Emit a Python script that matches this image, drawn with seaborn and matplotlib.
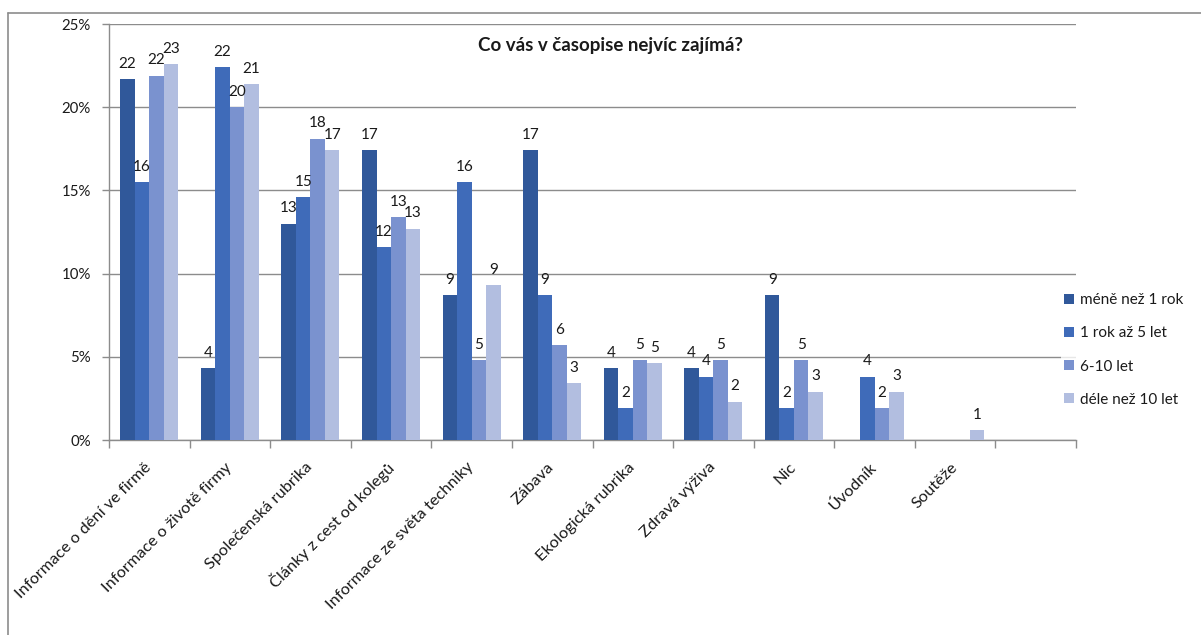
import numpy as np
import pandas as pd
import matplotlib
matplotlib.use("Agg")
import matplotlib.pyplot as plt
from matplotlib.lines import Line2D
from matplotlib.ticker import FixedLocator, PercentFormatter
import seaborn as sns

# --- data -------------------------------------------------------------
categories = [
    "Informace o dění ve firmě",
    "Informace o životě firmy",
    "Společenská rubrika",
    "Články z cest od kolegů",
    "Informace ze světa techniky",
    "Zábava",
    "Ekologická rubrika",
    "Zdravá výživa",
    "Nic",
    "Úvodník",
    "Soutěže",
]
series_names = ["méně než 1 rok", "1 rok až 5 let", "6-10 let", "déle než 10 let"]

mene_nez_1_rok = [21.7, 4.3, 13.0, 17.4, 8.7, 17.4, 4.3, 4.3, 8.7, 0.0, 0.0]
rok_az_5_let = [15.5, 22.4, 14.6, 11.6, 15.5, 8.7, 1.9, 3.8, 1.9, 3.8, 0.0]
let_6_10 = [21.9, 20.0, 18.1, 13.4, 4.8, 5.7, 4.8, 4.8, 4.8, 1.9, 0.0]
dele_nez_10_let = [22.6, 21.4, 17.4, 12.7, 9.3, 3.4, 4.6, 2.3, 2.9, 2.9, 0.6]

colors = ["#30589A", "#3F6BB9", "#7A92CF", "#B2BEE0"]
title = "Co vás v časopise nejvíc zajímá?"

values = [mene_nez_1_rok, rok_az_5_let, let_6_10, dele_nez_10_let]
df = pd.DataFrame(
    [(c, s, v) for s, vals in zip(series_names, values) for c, v in zip(categories, vals)],
    columns=["rubrika", "skupina", "podil"],
)

# --- style --------------------------------------------------------------
sns.set_style("white")
plt.rcParams["font.family"] = ["Lato", "DejaVu Sans"]
text_color = "#1a1a1a"
grid_color = "#8c8c8c"

W, H, DPI = 1201, 635, 100
fig = plt.figure(figsize=(W / DPI, H / DPI), dpi=DPI)
ax_left, ax_right, ax_top, ax_bottom = 109, 1076, 24, 440
ax = fig.add_axes([ax_left / W, 1 - ax_bottom / H,
                   (ax_right - ax_left) / W, (ax_bottom - ax_top) / H])

sns.barplot(data=df, x="rubrika", y="podil", hue="skupina", order=categories,
            hue_order=series_names, palette=colors, saturation=1,
            width=0.72, linewidth=0, ax=ax, legend=False, zorder=3)

# data labels (rounded values, nothing for empty bars)
for container, vals in zip(ax.containers, values):
    labels = [f"{round(v):d}" if v > 0 else "" for v in vals]
    ax.bar_label(container, labels=labels, padding=6, fontsize=11, color=text_color)

# y axis
ax.set_ylim(0, 25)
ax.set_yticks(np.arange(0, 26, 5))
ax.yaxis.set_major_formatter(PercentFormatter(decimals=0))
ax.grid(axis="y", color=grid_color, linewidth=1, zorder=0)
ax.set_axisbelow(True)

# x axis: ticks on category boundaries, labels at centres
n_slots = len(categories) + 1
ax.set_xlim(-0.5, n_slots - 0.5)
ax.xaxis.set_major_locator(FixedLocator(np.arange(-0.5, n_slots, 1.0)))
ax.xaxis.set_minor_locator(FixedLocator(np.arange(len(categories))))
ax.set_xticklabels([], minor=False)
ax.set_xticklabels(categories, minor=True, rotation=45, ha="right",
                   va="center", rotation_mode="anchor")
ax.tick_params(axis="x", which="major", length=6, width=1, color=grid_color,
               direction="out", bottom=True)
ax.tick_params(axis="x", which="minor", length=0, pad=18, labelsize=11.8,
               labelcolor=text_color)
ax.tick_params(axis="y", length=5, width=1, color=grid_color, direction="out",
               left=True, pad=8, labelsize=10.8, labelcolor=text_color)
ax.set_xlabel("")
ax.set_ylabel("")

for side in ["top", "right"]:
    ax.spines[side].set_visible(False)
for side in ["left", "bottom"]:
    ax.spines[side].set_color(grid_color)
    ax.spines[side].set_linewidth(1)

# title
fig.text(610 / W, 1 - 45 / H, title, ha="center", va="center",
         fontsize=13.5, fontweight="bold", color=text_color)

# legend
handles = [plt.Rectangle((0, 0), 1, 1, facecolor=c, edgecolor="none") for c in colors]
leg = fig.legend(handles, series_names, loc="center left",
                 bbox_to_anchor=(1061 / W, 1 - 350 / H), frameon=True,
                 fontsize=11, handlelength=0.65, handleheight=0.65,
                 handletextpad=0.4, labelspacing=1.25, borderpad=0.2,
                 borderaxespad=0)
leg.get_frame().set_facecolor("white")
leg.get_frame().set_edgecolor("none")
for t in leg.get_texts():
    t.set_color(text_color)

# outer chart frame
fig.add_artist(Line2D([8 / W, 1], [1 - 13 / H, 1 - 13 / H], color=grid_color,
                      linewidth=1.2, transform=fig.transFigure))
fig.add_artist(Line2D([8 / W, 8 / W], [0, 1 - 13 / H], color=grid_color,
                      linewidth=1.2, transform=fig.transFigure))

fig.savefig("out.png", dpi=DPI, facecolor="white")
